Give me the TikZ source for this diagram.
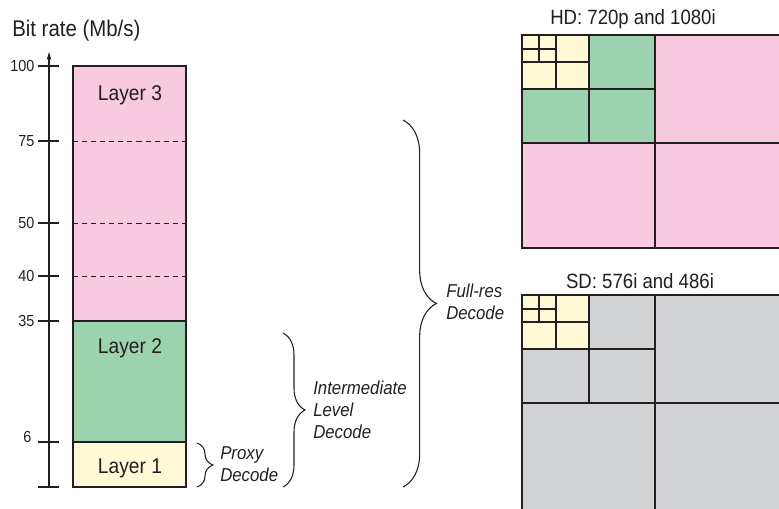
\documentclass[tikz,border=0pt]{standalone}
\usepackage{fontspec}
\setmainfont{Liberation Sans}[FakeStretch=0.9]
\usepackage{tikz}
\usepackage{xcolor}
\usetikzlibrary{decorations.pathreplacing, arrows.meta}

\definecolor{layerpink}{HTML}{F7CADF}
\definecolor{layergreen}{HTML}{9CD3AE}
\definecolor{layeryellow}{HTML}{FFFAD5}
\definecolor{sdgray}{HTML}{D1D3D4}
\definecolor{ink}{HTML}{231F20}

\tikzset{
  edge/.style={draw=ink, line width=0.9pt},
  ticklbl/.style={font=\fontsize{12}{14}\selectfont, text=ink, anchor=east, inner sep=1pt},
  layerlbl/.style={font=\fontsize{16}{19}\selectfont, text=ink, anchor=base},
  titlelbl/.style={font=\fontsize{15.5}{18}\selectfont, text=ink, anchor=base},
  decodelbl/.style={font=\fontsize{14}{16.5}\selectfont\itshape, text=ink, align=left, anchor=west, inner sep=0pt},
  bracket/.style={decorate, decoration={brace, amplitude=#1}, draw=ink, line width=0.8pt},
}

\begin{document}
\begin{tikzpicture}[x=0.75pt, y=-0.75pt]
\useasboundingbox (0,0) rectangle (779,508);
\clip (0,0) rectangle (779,508);

%% axis
\node[font=\fontsize{17}{20}\selectfont, text=ink, anchor=base west, inner sep=0pt] (ytitle) at (12,36) {Bit rate (Mb/s)};
\coordinate (axbot) at (49,487);
\coordinate (axtop) at (49,52);
\draw[ink, line width=0.8pt, -{Stealth[length=6pt, width=3.5pt]}] (axbot) -- (axtop);
\foreach \y/\v in {66/100, 141/75, 223/50, 276/40, 321/35} {
  \draw[ink, line width=0.8pt] (38,\y) -- (59,\y);
  \node[ticklbl] (t\v) at (36,\y) {\v};
}
\draw[ink, line width=0.8pt] (38,442) -- (59,442);
\node[ticklbl] (t6) at (33,437) {6};
\draw[ink, line width=0.8pt] (38,487) -- (59,487);

%% layer bar
\fill[layerpink]   (73,66)  rectangle (186,321);
\fill[layergreen]  (73,321) rectangle (186,442);
\fill[layeryellow] (73,442) rectangle (186,487);
\foreach \y in {141, 223, 276}
  \draw[ink, line width=0.6pt, dash pattern=on 3.8pt off 3pt] (73,\y) -- (186,\y);
\draw[edge] (73,321) -- (186,321);
\draw[edge] (73,442) -- (186,442);
\draw[edge] (73,66) rectangle (186,487);
\node[layerlbl] (l3) at (130,100) {Layer 3};
\node[layerlbl] (l2) at (130,353) {Layer 2};
\node[layerlbl] (l1) at (130,473) {Layer 1};

%% decode braces
\coordinate (pxtop) at (197,443);
\coordinate (pxbot) at (197,487);
\coordinate (imtop) at (283,333);
\coordinate (imbot) at (283,487);
\coordinate (frtop) at (403,120);
\coordinate (frbot) at (403,487);
\draw[bracket=12pt] (pxtop) -- (pxbot);
\draw[bracket=16.5pt] (imtop) -- (imbot);
\draw[bracket=25pt] (frtop) -- (frbot);
\node[decodelbl] (proxy) at (220,464) {Proxy\\Decode};
\node[decodelbl] (inter) at (313,410) {Intermediate\\Level\\Decode};
\node[decodelbl] (fullres) at (446,302) {Full-res\\Decode};

%% HD and SD frames
\node[titlelbl] (hd) at (633,24) {HD: 720p and 1080i};
\node[titlelbl] (sd) at (640,288) {SD: 576i and 486i};
\foreach \ytop/\cbig/\cmid/\ybot in {35/layerpink/layergreen/248, 295/sdgray/sdgray/520} {
  \fill[\cbig] (522,\ytop) rectangle (800,\ybot);
  \fill[\cmid] (522,\ytop) rectangle (655,\ytop+108);
  \fill[layeryellow] (522,\ytop) rectangle (589,\ytop+54);
  \draw[edge] (522,\ytop) rectangle (800,\ybot);
  \draw[edge] (655,\ytop) -- (655,\ybot);
  \draw[edge] (522,\ytop+108) -- (800,\ytop+108);
  \draw[edge] (589,\ytop) -- (589,\ytop+108);
  \draw[edge] (522,\ytop+54) -- (655,\ytop+54);
  \draw[edge] (556,\ytop) -- (556,\ytop+54);
  \draw[edge] (522,\ytop+27) -- (589,\ytop+27);
  \draw[edge] (539,\ytop) -- (539,\ytop+27);
  \draw[edge] (522,\ytop+14) -- (556,\ytop+14);
}
\end{tikzpicture}
\end{document}
